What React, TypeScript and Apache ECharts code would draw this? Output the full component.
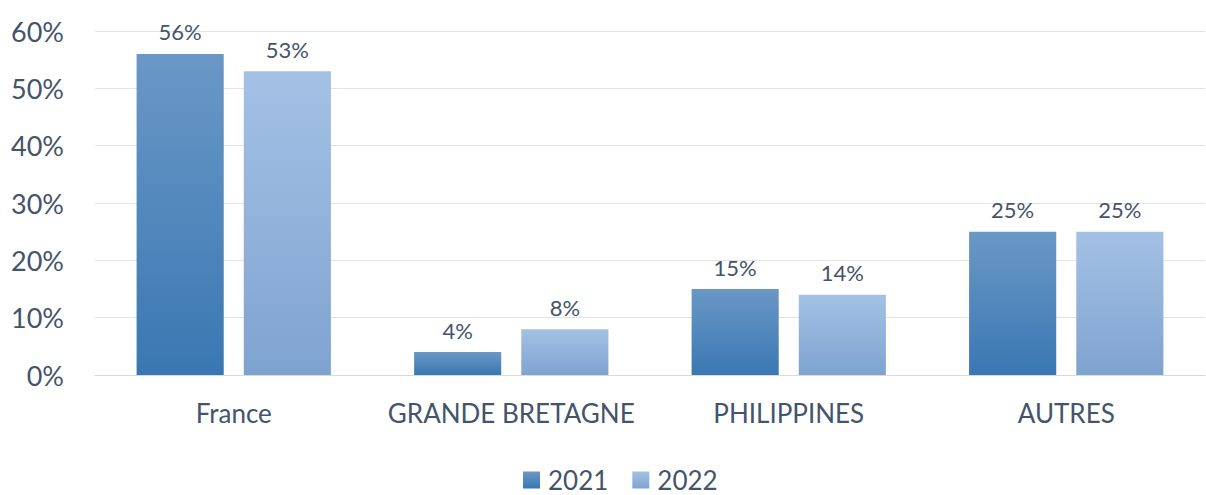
import React, { useEffect, useRef } from "react";
import * as echarts from "echarts";

const categories = ["France", "GRANDE BRETAGNE", "PHILIPPINES", "AUTRES"];
const series2021 = [56, 4, 15, 25];
const series2022 = [53, 8, 14, 25];
const yTicks = [0, 10, 20, 30, 40, 50, 60];

const TEXT = "#44546a";
const FONT = "Lato, 'Open Sans', sans-serif";

export default function App() {
  const ref = useRef<HTMLDivElement>(null);
  useEffect(() => {
    const chart = echarts.init(ref.current!, undefined, { renderer: "svg" });
    const grad = (top: string, bottom: string) =>
      new echarts.graphic.LinearGradient(0, 0, 0, 1, [
        { offset: 0, color: top },
        { offset: 1, color: bottom },
      ]);
    const label = {
      show: true,
      position: "top" as const,
      formatter: "{c}%",
      color: TEXT,
      fontSize: 22,
      fontFamily: FONT,
      distance: 11,
    };
    chart.setOption({
      animation: false,
      textStyle: { fontFamily: FONT },
      grid: { left: 95, right: 1, top: 31, bottom: 120, containLabel: false },
      legend: {
        top: 467,
        left: 523,
        padding: 0,
        itemWidth: 17,
        itemHeight: 17,
        itemGap: 24,
        icon: "rect",
        textStyle: {
          color: TEXT,
          fontSize: 26,
          lineHeight: 26,
          fontFamily: FONT,
          padding: [0, 0, 0, 3],
        },
        data: ["2021", "2022"],
      },
      xAxis: {
        type: "category",
        data: categories,
        axisLine: { lineStyle: { color: "#d9d9d9", width: 1 } },
        axisTick: { show: false },
        axisLabel: {
          color: TEXT,
          fontSize: 26,
          fontFamily: FONT,
          margin: 25,
          interval: 0,
        },
      },
      yAxis: {
        type: "value",
        min: yTicks[0],
        max: yTicks[yTicks.length - 1],
        interval: 10,
        axisLine: { show: false },
        axisTick: { show: false },
        splitLine: { lineStyle: { color: "#e3e3e3", width: 1 } },
        axisLabel: {
          color: TEXT,
          fontSize: 27,
          fontFamily: FONT,
          margin: 31,
          formatter: "{value}%",
        },
      },
      series: [
        {
          name: "2021",
          type: "bar",
          data: series2021,
          barWidth: "31.4%",
          barGap: "23%",
          itemStyle: { color: grad("#6a98c6", "#3a77b2") },
          label,
        },
        {
          name: "2022",
          type: "bar",
          data: series2022,
          barWidth: "31.4%",
          itemStyle: { color: grad("#a4c1e5", "#7fa3d0") },
          label,
        },
      ],
    });
    return () => chart.dispose();
  }, []);
  return (
    <div
      ref={ref}
      style={{ position: "absolute", left: 0, top: 0, width: 1206, height: 495 }}
    />
  );
}
